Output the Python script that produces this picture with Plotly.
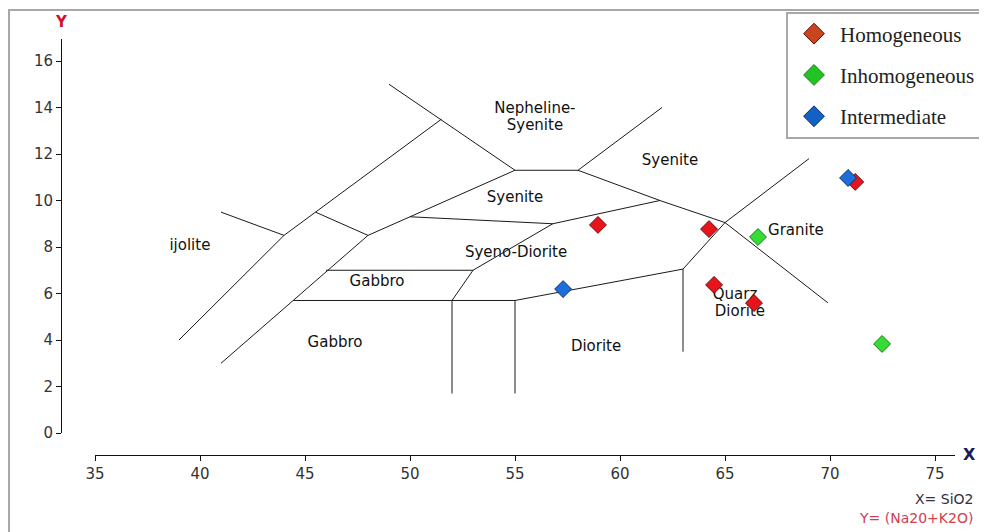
import plotly.graph_objects as go

# page body has an 8px margin, so the figure is placed at (8, 8)
OFF = 8
W, H = 987 - OFF, 532 - OFF


def px(x):
    return (x - OFF) / W


def py(y):
    return 1 - (y - OFF) / H


# ---------------- data ----------------
homog_x = [58.95, 64.24, 71.2, 64.48, 66.38]
homog_y = [8.95, 8.77, 10.8, 6.37, 5.59]
inhomog_x = [66.57, 72.48]
inhomog_y = [8.43, 3.83]
interm_x = [70.86, 57.29]
interm_y = [10.97, 6.19]

# classification boundaries (polylines separated by None)
boundary_x = [39, 44, 51.5, None,
              41, 44, None,
              45.5, 48, None,
              41, 48, 55, 58, 61.9, 65, 69.9, None,
              49, 55, None,
              58, 62, None,
              50, 56.8, 61.9, None,
              69, 65, 63, 63, None,
              63, 55, 55, None,
              44.45, 55, None,
              52, 52, 53, 56.8, None,
              46, 53]
boundary_y = [4, 8.5, 13.5, None,
              9.5, 8.5, None,
              9.5, 8.5, None,
              3, 8.5, 11.3, 11.3, 10.0, 9.05, 5.6, None,
              15, 11.3, None,
              11.3, 14, None,
              9.3, 9.0, 10.0, None,
              11.8, 9.05, 7.05, 3.5, None,
              7.05, 5.7, 1.7, None,
              5.7, 5.7, None,
              1.7, 5.7, 7.0, 9.0, None,
              7.0, 7.0]

field_names = ["ijolite", "Nepheline-", "Syenite", "Syenite", "Syenite",
               "Syeno-Diorite", "Gabbro", "Gabbro", "Diorite", "Granite",
               "Quarz", "Diorite"]
field_x = [39.52, 55.95, 55.95, 62.38, 55.0, 55.05, 48.43, 46.43, 58.86, 68.38,
           65.48, 65.71]
field_y = [8.04, 13.93, 13.2, 11.70, 10.11, 7.74, 6.49, 3.87, 3.70, 8.69,
           5.94, 5.20]

x_ticks = [35, 40, 45, 50, 55, 60, 65, 70, 75]
y_ticks = [0, 2, 4, 6, 8, 10, 12, 14, 16]

series_names = ["Homogeneous", "Inhomogeneous", "Intermediate"]
legend_colors = ["#c8461e", "#22c322", "#1262c6"]
point_colors = ["#e8141c", "#33dd33", "#1c6fd8"]
point_edges = ["#6a0a0a", "#1a7a1a", "#0a3070"]

# ---------------- figure ----------------
fig = go.Figure()

fig.add_trace(go.Scatter(x=boundary_x, y=boundary_y, mode="lines",
                         line=dict(color="#1a1a1a", width=1),
                         hoverinfo="skip", showlegend=False))

fig.add_trace(go.Scatter(x=field_x, y=field_y, mode="text", text=field_names,
                         textposition="middle center",
                         textfont=dict(family="DejaVu Sans", size=15, color="#111111"),
                         hoverinfo="skip", showlegend=False))

for xs, ys, c, e in zip([homog_x, inhomog_x, interm_x], [homog_y, inhomog_y, interm_y],
                        point_colors, point_edges):
    fig.add_trace(go.Scatter(x=xs, y=ys, mode="markers", showlegend=False,
                             marker=dict(symbol="diamond", size=13, color=c,
                                         line=dict(color=e, width=1))))

# legend-only entries
for n, c, e in zip(series_names, legend_colors, point_edges):
    fig.add_trace(go.Scatter(x=[None], y=[None], mode="markers", name=n,
                             legendgroup=n,
                             marker=dict(symbol="diamond", size=16, color=c,
                                         line=dict(color=e, width=1))))

x0px, x1px = 95, 955
y0px, y1px = 433, 39
xscale, yscale = 21.0, 23.25

fig.update_layout(
    width=W, height=H,
    margin=dict(l=0, r=0, t=0, b=0),
    paper_bgcolor="white", plot_bgcolor="white",
    xaxis=dict(domain=[px(x0px), px(x1px)],
               range=[35, 35 + (x1px - x0px) / xscale],
               anchor="free", position=py(455),
               showline=True, linecolor="#111111", linewidth=1,
               ticks="outside", ticklen=5, tickcolor="#111111",
               tickvals=x_ticks, showgrid=False, zeroline=False,
               tickfont=dict(family="DejaVu Sans", size=15, color="#333333"),
               automargin=False),
    yaxis=dict(domain=[py(y0px), py(y1px)],
               range=[0, (y0px - y1px) / yscale],
               anchor="free", position=px(61),
               showline=True, linecolor="#111111", linewidth=1,
               ticks="outside", ticklen=5, tickcolor="#111111",
               tickvals=y_ticks, showgrid=False, zeroline=False,
               tickfont=dict(family="DejaVu Sans", size=15, color="#333333"),
               automargin=False),
    legend=dict(x=px(786), y=py(11.5), xanchor="left", yanchor="top",
                bgcolor="white", bordercolor="#a8a8a8", borderwidth=2,
                font=dict(family="Liberation Serif", size=21, color="#222222"),
                traceorder="grouped", tracegroupgap=11, itemwidth=42),
    showlegend=True,
)

fig.add_shape(type="rect", xref="paper", yref="paper",
              x0=px(9), y0=py(10), x1=1.05, y1=-0.05,
              line=dict(color="#a8a8a8", width=2), layer="below")

fig.add_annotation(xref="paper", yref="paper", x=px(61), y=py(22),
                   text="<b>Y</b>", showarrow=False, xanchor="center", yanchor="middle",
                   font=dict(family="DejaVu Sans", size=15, color="#d0102a"))
fig.add_annotation(xref="paper", yref="paper", x=px(961), y=py(454),
                   text="<b>X</b>", showarrow=False, xanchor="left", yanchor="middle",
                   font=dict(family="DejaVu Sans", size=16, color="#1a1a5a"))
fig.add_annotation(xref="paper", yref="paper", x=px(975), y=py(499),
                   text="X= SiO2", showarrow=False, xanchor="right", yanchor="middle",
                   font=dict(family="DejaVu Sans", size=14, color="#303040"))
fig.add_annotation(xref="paper", yref="paper", x=px(975), y=py(518),
                   text="Y= (Na20+K2O)", showarrow=False, xanchor="right", yanchor="middle",
                   font=dict(family="DejaVu Sans", size=14, color="#d04050"))

fig.write_html("out.html")
